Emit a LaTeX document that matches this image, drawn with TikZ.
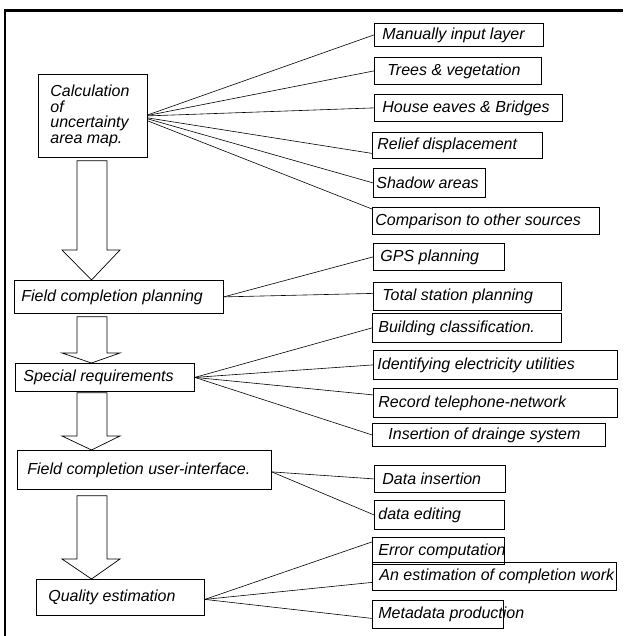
\documentclass[tikz,border=0pt]{standalone}
\usepackage{fontspec}
\setmainfont{Liberation Sans}
\usetikzlibrary{calc}
\newcommand\bxt[3]{\makebox[#1pt][l]{\hspace{#2pt}#3}}
\newcommand\hollowarrow[4]{%
  \draw[hollow] let \p1=(#1.south), \p2=(#2.north) in
    (77pt,\y1-#3pt) -- (77pt,\y2+#4pt) -- (62pt,\y2+#4pt) -- (91.5pt,\y2)
    -- (120pt,\y2+#4pt) -- (107pt,\y2+#4pt) -- (107pt,\y1-#3pt) -- cycle;}
\begin{document}
\begin{tikzpicture}[x=1pt,y=-1pt,
  box/.style={draw, line width=0.8pt, anchor=north west, inner xsep=0pt, inner ysep=0pt,
              font=\itshape\fontsize{16}{15.6}\selectfont},
  link/.style={line width=0.6pt},
  hollow/.style={line width=0.7pt, line join=miter},
  frame/.style={line width=2.4pt}]
\useasboundingbox (0,0) rectangle (623,636);
\draw[frame] (5,636) -- (5,10.5) -- (623,10.5);

% left column
\node[box, minimum height=83pt] (calc) at (38,74)
  {\bxt{109}{12}{\parbox{92pt}{\raggedright Calculation\\of\\uncertainty\\area map.}}};
\node[box, minimum height=33pt] (fcp) at (14,280) {\bxt{209}{7}{Field completion planning}};
\node[box, minimum height=28pt] (sr) at (15,363) {\bxt{179}{8}{Special requirements}};
\node[box, minimum height=39pt] (fcui) at (17,450) {\bxt{254}{10}{Field completion user-interface.}};
\node[box, minimum height=36pt] (qe) at (36,579) {\bxt{168}{12}{Quality estimation}};

% right column
\node[box, minimum height=23pt] (manual) at (374,23) {\bxt{169}{8}{Manually input layer}};
\node[box, minimum height=27pt] (trees) at (374,57) {\bxt{167}{13}{Trees \& vegetation}};
\node[box, minimum height=27pt] (house) at (374,94) {\bxt{188}{8}{House eaves \& Bridges}};
\node[box, minimum height=26pt] (relief) at (372,132) {\bxt{170}{5}{Relief displacement}};
\node[box, minimum height=29pt] (shadow) at (373,168) {\bxt{112}{3}{Shadow areas}};
\node[box, minimum height=27pt] (comp) at (372,207) {\bxt{227}{3}{Comparison to other sources}};
\node[box, minimum height=27pt] (gps) at (373,243) {\bxt{131}{7}{GPS planning}};
\node[box, minimum height=28pt] (total) at (373,282) {\bxt{188}{9}{Total station planning}};
\node[box, minimum height=29pt] (build) at (372,313) {\bxt{189}{6}{Building classification.}};
\node[box, minimum height=29pt] (ident) at (373,350) {\bxt{244}{4}{Identifying electricity utilities}};
\node[box, minimum height=29pt] (record) at (373,388) {\bxt{244}{5}{Record telephone-network}};
\node[box, minimum height=23pt] (drain) at (372,423) {\bxt{233}{16}{Insertion of drainge system}};
\node[box, minimum height=27pt] (dins) at (374,465) {\bxt{131}{8}{Data insertion}};
\node[box, minimum height=29pt] (dedit) at (374,500) {\bxt{130}{4}{data editing}};
\node[box, minimum height=27pt] (err) at (372,537) {\bxt{132}{6}{Error computation}};
\node[box, minimum height=28pt] (est) at (372,562) {\bxt{244}{7}{An estimation of completion work}};
\node[box, minimum height=28pt] (meta) at (372,600) {\bxt{131}{6}{Metadata production}};

% connectors
\draw[link] ([yshift=1pt]calc.east) -- (manual.west);
\draw[link] ([yshift=0.5pt]calc.east) -- (trees.west);
\draw[link] (calc.east) -- (house.west);
\draw[link] ([yshift=-2pt]calc.east) -- ([yshift=-8pt]relief.west);
\draw[link] ([yshift=-3pt]calc.east) -- (shadow.west);
\draw[link] ([yshift=-5pt]calc.east) -- ([yshift=-2pt]comp.north west);

\draw[link] (fcp.east) -- (gps.west);
\draw[link] (fcp.east) -- ([yshift=3pt]total.west);

\draw[link] (sr.east) -- (build.west);
\draw[link] (sr.east) -- (ident.west);
\draw[link] (sr.east) -- ([yshift=8pt]record.west);
\draw[link] (sr.east) -- (drain.west);

\draw[link] ([yshift=-2pt]fcui.east) -- (dins.west);
\draw[link] ([yshift=-2pt]fcui.east) -- (dedit.west);

\draw[link] ([yshift=-2pt]qe.east) -- ([yshift=9pt]err.west);
\draw[link] ([yshift=-2pt]qe.east) -- ([yshift=-6pt]est.west);
\draw[link] ([yshift=-2pt]qe.east) -- ([yshift=-4pt]meta.west);

% hollow block arrows
\hollowarrow{calc}{fcp}{3}{30}
\hollowarrow{fcp}{sr}{3}{10}
\hollowarrow{sr}{fcui}{1}{14}
\hollowarrow{fcui}{qe}{6}{20}
\end{tikzpicture}
\end{document}
